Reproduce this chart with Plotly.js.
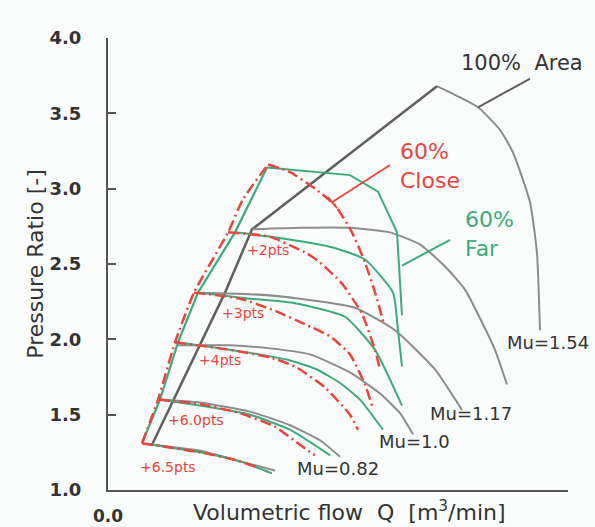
<!DOCTYPE html>
<html>
<head>
<meta charset="utf-8">
<script src="https://cdn.plot.ly/plotly-3.0.1.min.js"></script>
<style>html,body{margin:0;padding:0;background:#fafcfc;}</style>
</head>
<body>
<div id="chart" style="width:595px;height:527px;"></div>
<script>
// ---- 100% area (gray) ----
const surge100X = [0.44, 0.82, 1.17, 1.44, 3.29];
const surge100Y = [1.30, 1.83, 2.31, 2.73, 3.68];
const gray1X = [0.44, 0.92, 1.32, 1.67];
const gray1Y = [1.30, 1.26, 1.19, 1.13];
const gray2X = [0.52, 0.92, 1.42, 1.82, 2.12, 2.32];
const gray2Y = [1.60, 1.58, 1.52, 1.43, 1.33, 1.22];
const gray3X = [0.70, 1.22, 1.62, 2.02, 2.42, 2.72, 2.92, 3.05];
const gray3Y = [1.96, 1.96, 1.94, 1.90, 1.78, 1.64, 1.51, 1.37];
const gray4X = [0.90, 1.42, 1.92, 2.47, 2.87, 3.27, 3.54];
const gray4Y = [2.31, 2.30, 2.27, 2.21, 2.06, 1.80, 1.53];
const gray5X = [1.44, 1.92, 2.42, 2.82, 3.12, 3.39, 3.57, 3.72, 3.87, 3.99];
const gray5Y = [2.73, 2.74, 2.74, 2.71, 2.63, 2.47, 2.33, 2.14, 1.93, 1.70];
const gray6X = [3.29, 3.70, 3.92, 4.05, 4.22, 4.29, 4.32];
const gray6Y = [3.68, 3.54, 3.39, 3.24, 2.91, 2.57, 2.06];
const areaLeaderX = [3.70, 4.22];
const areaLeaderY = [3.54, 3.73];

// ---- 60% Far (green) ----
const farSurgeX = [0.34, 0.52, 0.70, 0.90, 1.27, 1.59];
const farSurgeY = [1.31, 1.60, 1.98, 2.31, 2.71, 3.14];
const far1X = [0.34, 0.92, 1.32, 1.64];
const far1Y = [1.31, 1.25, 1.19, 1.11];
const far2X = [0.52, 0.92, 1.42, 1.82, 2.22];
const far2Y = [1.60, 1.56, 1.50, 1.40, 1.23];
const far3X = [0.70, 1.12, 1.42, 1.82, 2.09, 2.32, 2.52, 2.75];
const far3Y = [1.98, 1.94, 1.91, 1.86, 1.80, 1.71, 1.60, 1.40];
const far4X = [0.90, 1.42, 1.87, 2.37, 2.67, 2.94];
const far4Y = [2.31, 2.27, 2.24, 2.15, 1.93, 1.56];
const far5X = [1.27, 1.75, 2.25, 2.57, 2.85, 2.90, 2.94];
const far5Y = [2.71, 2.67, 2.61, 2.53, 2.31, 2.06, 1.82];
const far6X = [1.59, 2.42, 2.70, 2.89, 2.94];
const far6Y = [3.14, 3.09, 2.98, 2.71, 2.16];
const farLeaderX = [2.94, 3.42];
const farLeaderY = [2.49, 2.66];

// ---- 60% Close (red) ----
const closeSurgeX = [0.34, 0.50, 0.67, 0.86, 1.20, 1.35, 1.60];
const closeSurgeY = [1.31, 1.60, 1.98, 2.31, 2.71, 2.93, 3.16];
const close1X = [0.34, 0.92, 1.27, 1.50];
const close1Y = [1.31, 1.25, 1.20, 1.15];
const close2X = [0.50, 0.92, 1.32, 1.67, 1.92, 2.07];
const close2Y = [1.60, 1.57, 1.51, 1.42, 1.30, 1.23];
const close3X = [0.67, 1.22, 1.62, 1.87, 2.17, 2.42, 2.50];
const close3Y = [1.98, 1.93, 1.88, 1.82, 1.68, 1.50, 1.40];
const close4X = [0.86, 1.32, 1.67, 1.97, 2.22, 2.42, 2.57, 2.64];
const close4Y = [2.31, 2.27, 2.19, 2.10, 2.02, 1.90, 1.70, 1.56];
const close5X = [1.20, 1.62, 1.99, 2.12, 2.34, 2.54, 2.67, 2.72];
const close5Y = [2.71, 2.68, 2.57, 2.51, 2.37, 2.17, 1.93, 1.80];
const close6X = [1.60, 1.82, 2.07, 2.27, 2.44, 2.57, 2.68, 2.76];
const close6Y = [3.16, 3.11, 3.00, 2.89, 2.71, 2.51, 2.29, 2.10];
const closeLeaderX = [2.82, 2.24];
const closeLeaderY = [3.157, 2.91];
const closeBarX = [2.20, 2.29];
const closeBarY = [2.944, 2.871];

// ---- labels ----
const yTicks = [1.0, 1.5, 2.0, 2.5, 3.0, 3.5, 4.0];
const muLabels = ['Mu=1.54', 'Mu=1.17', 'Mu=1.0', 'Mu=0.82'];
const muLabelX = [3.97, 3.20, 2.69, 1.87];
const muLabelY = [1.982, 1.511, 1.319, 1.146];
const gainLabels = ['+2pts', '+3pts', '+4pts', '+6.0pts', '+6.5pts'];
const gainLabelX = [1.60, 1.35, 1.12, 0.88, 0.60];
const gainLabelY = [2.593, 2.175, 1.863, 1.465, 1.153];

const GRAY = '#8c8c8c', DARK = '#5f5f5f', GREEN = '#3daa7c', RED = '#e8453c';
const FONT = 'DejaVu Sans, Verdana, sans-serif';

function ln(x, y, color, width, dash, name) {
  return {x: x, y: y, type: 'scatter', mode: 'lines', name: name, hoverinfo: 'skip',
          line: {color: color, width: width, dash: dash || 'solid', shape: 'spline', smoothing: 0.5}};
}
function straight(x, y, color, width, name) {
  return {x: x, y: y, type: 'scatter', mode: 'lines', name: name, hoverinfo: 'skip',
          line: {color: color, width: width}};
}
const RDASH = '11px,4px,2px,4px';

const traces = [
  straight(surge100X, surge100Y, DARK, 2.5, '100% Area surge'),
  ln(gray1X, gray1Y, GRAY, 2, null, '100% speed 1'),
  ln(gray2X, gray2Y, GRAY, 2, null, '100% speed 2'),
  ln(gray3X, gray3Y, GRAY, 2, null, '100% speed 3'),
  ln(gray4X, gray4Y, GRAY, 2, null, '100% speed 4'),
  ln(gray5X, gray5Y, GRAY, 2, null, '100% speed 5'),
  ln(gray6X, gray6Y, GRAY, 2, null, '100% speed 6'),
  straight(areaLeaderX, areaLeaderY, DARK, 2, '100% leader'),
  straight(farSurgeX, farSurgeY, GREEN, 2.2, '60% Far surge'),
  ln(far1X, far1Y, GREEN, 2, null, '60% Far 1'),
  ln(far2X, far2Y, GREEN, 2, null, '60% Far 2'),
  ln(far3X, far3Y, GREEN, 2, null, '60% Far 3'),
  ln(far4X, far4Y, GREEN, 2, null, '60% Far 4'),
  ln(far5X, far5Y, GREEN, 2, null, '60% Far 5'),
  straight(far6X, far6Y, GREEN, 2, '60% Far 6'),
  straight(farLeaderX, farLeaderY, GREEN, 2, '60% Far leader'),
  ln(closeSurgeX, closeSurgeY, RED, 2.5, RDASH, '60% Close surge'),
  ln(close1X, close1Y, RED, 2.5, RDASH, '60% Close 1'),
  ln(close2X, close2Y, RED, 2.5, RDASH, '60% Close 2'),
  ln(close3X, close3Y, RED, 2.5, RDASH, '60% Close 3'),
  ln(close4X, close4Y, RED, 2.5, RDASH, '60% Close 4'),
  ln(close5X, close5Y, RED, 2.5, RDASH, '60% Close 5'),
  ln(close6X, close6Y, RED, 2.5, RDASH, '60% Close 6'),
  straight(closeLeaderX, closeLeaderY, RED, 1.8, '60% Close leader'),
  straight(closeBarX, closeBarY, RED, 2, '60% Close leader end')
];

const annotations = [
  {x: 4.14, y: 3.834, text: '100%  Area', showarrow: false, font: {family: FONT, size: 21, color: '#333'}},
  {x: 2.90, y: 3.15, text: '60%<br>Close', xanchor: 'left', align: 'left', showarrow: false,
   font: {family: FONT, size: 22, color: RED}},
  {x: 3.55, y: 2.70, text: '60%<br>Far', xanchor: 'left', align: 'left', showarrow: false,
   font: {family: FONT, size: 22, color: GREEN}},
  {xref: 'paper', yref: 'paper', x: 0.526, y: -0.047, yanchor: 'middle', showarrow: false,
   text: 'Volumetric flow  Q  [m<sup>3</sup>/min]', font: {family: FONT, size: 22, color: '#333'}}
];
muLabels.forEach((t, i) => annotations.push({x: muLabelX[i], y: muLabelY[i], text: t, xanchor: 'left',
  showarrow: false, font: {family: FONT, size: 18, color: '#333'}}));
gainLabels.forEach((t, i) => annotations.push({x: gainLabelX[i], y: gainLabelY[i], text: t,
  showarrow: false, font: {family: FONT, size: 14, color: RED}}));

const layout = {
  width: 595, height: 527,
  margin: {l: 108, r: 27, t: 38, b: 37, pad: 0},
  paper_bgcolor: '#fafcfc', plot_bgcolor: '#fafcfc',
  showlegend: false,
  font: {family: FONT, color: '#333'},
  xaxis: {
    range: [0, 4.6], showgrid: false, zeroline: false, showline: true, linecolor: '#555', linewidth: 2,
    tickvals: [0], ticktext: ['0.0'], ticks: '', ticklabelstandoff: 10,
    tickfont: {family: FONT, size: 17, color: '#333', weight: 'bold'},
    automargin: false, fixedrange: true
  },
  yaxis: {
    range: [1, 4], showgrid: false, zeroline: false, showline: true, linecolor: '#555', linewidth: 2,
    tickvals: yTicks, tickformat: '.1f', ticks: 'inside', ticklen: 8, tickwidth: 2, tickcolor: '#555',
    ticklabelstandoff: 21,
    tickfont: {family: FONT, size: 18, color: '#333', weight: 'bold'},
    title: {text: 'Pressure Ratio [-]', standoff: 0, font: {family: FONT, size: 22, color: '#333'}},
    automargin: false, fixedrange: true
  },
  annotations: annotations
};

Plotly.newPlot('chart', traces, layout, {staticPlot: true, displayModeBar: false});
</script>
</body>
</html>
